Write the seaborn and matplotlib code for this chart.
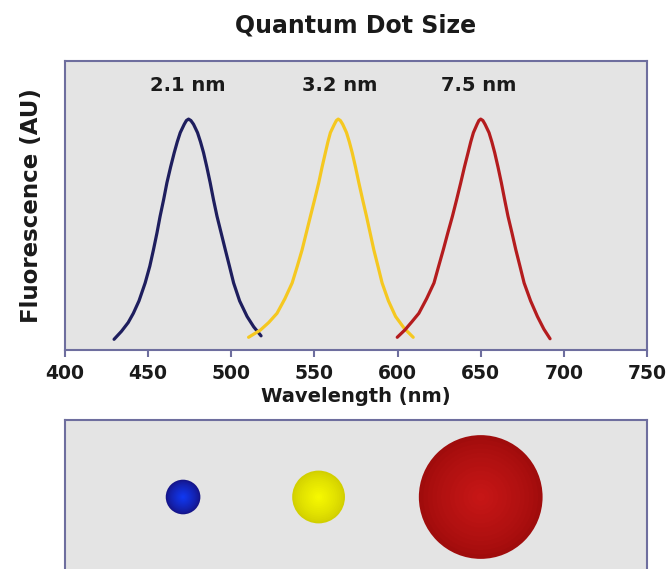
import numpy as np
import pandas as pd
import matplotlib
matplotlib.use("Agg")
import matplotlib.pyplot as plt
import seaborn as sns
from matplotlib.colors import to_rgb

# ---- data ----
blue_nm = [429.5, 434.0, 438.0, 441.1, 444.5, 448.2, 451.0, 453.2, 455.3, 457.2,
           459.3, 461.3, 463.5, 465.7, 467.5, 469.3, 471.7, 473.0, 474.3, 475.7,
           477.3, 479.7, 481.5, 483.3, 485.3, 487.3, 489.3, 491.4, 493.9, 496.4,
           498.9, 501.4, 505.0, 509.5, 513.5, 517.9]
blue_val = [0.037, 0.065, 0.095, 0.127, 0.170, 0.232, 0.290, 0.347, 0.405, 0.463,
            0.520, 0.579, 0.633, 0.683, 0.720, 0.752, 0.781, 0.794, 0.799, 0.794,
            0.781, 0.752, 0.720, 0.683, 0.633, 0.579, 0.520, 0.463, 0.405, 0.347,
            0.290, 0.232, 0.170, 0.116, 0.080, 0.049]

yellow_nm = [510.4, 517.5, 522.5, 527.5, 532.2, 536.6, 539.7, 542.6, 545.1, 547.6,
             550.1, 552.6, 554.6, 556.6, 558.1, 559.6, 562.0, 563.2, 564.3, 565.6,
             567.0, 569.3, 571.0, 572.7, 574.7, 576.7, 579.0, 581.3, 583.5, 585.7,
             588.2, 590.7, 594.5, 598.8, 604.0, 609.4]
yellow_val = [0.044, 0.069, 0.095, 0.127, 0.177, 0.232, 0.290, 0.347, 0.405, 0.463,
              0.520, 0.579, 0.633, 0.683, 0.720, 0.752, 0.781, 0.794, 0.799, 0.794,
              0.781, 0.752, 0.720, 0.683, 0.633, 0.579, 0.520, 0.463, 0.405, 0.347,
              0.290, 0.232, 0.170, 0.116, 0.075, 0.044]

red_nm = [599.8, 604.5, 608.5, 612.8, 617.5, 621.9, 624.7, 627.5, 630.2, 633.0,
          635.5, 638.0, 640.2, 642.4, 644.0, 645.6, 647.8, 648.9, 650.0, 651.3,
          652.6, 655.0, 656.7, 658.4, 660.4, 662.4, 664.4, 666.4, 668.8, 671.1,
          673.6, 676.1, 680.0, 684.1, 688.0, 691.7]
red_val = [0.044, 0.070, 0.097, 0.127, 0.178, 0.232, 0.290, 0.347, 0.405, 0.463,
           0.520, 0.579, 0.633, 0.683, 0.720, 0.752, 0.781, 0.794, 0.799, 0.794,
           0.781, 0.752, 0.720, 0.683, 0.633, 0.579, 0.520, 0.463, 0.405, 0.347,
           0.290, 0.232, 0.170, 0.116, 0.072, 0.039]

dot_labels = ["2.1 nm", "3.2 nm", "7.5 nm"]
dot_size_nm = [2.1, 3.2, 7.5]
label_x = [474.0, 565.0, 649.0]
dot_x = [471.0, 552.5, 650.0]
x_ticks = [400, 450, 500, 550, 600, 650, 700, 750]

# ---- styling ----
line_colors = ["#1e1e5e", "#f5c820", "#b41c1e"]
dot_edge = ["#15158a", "#d2d000", "#a00c0c"]
dot_center = ["#1038f0", "#f6f800", "#c61616"]
bg = "#e4e4e4"
frame = "#6e6e9e"
txt = "#1a1a1a"

sns.set_theme(style="white")
plt.rcParams["font.family"] = ["DejaVu Sans"]

W, H = 667, 569
fig = plt.figure(figsize=(W / 100, H / 100), dpi=100)

def ax_rect(x0, y0, x1, y1):
    return [x0 / W, 1 - y1 / H, (x1 - x0) / W, (y1 - y0) / H]

ax = fig.add_axes(ax_rect(65, 61, 647, 350))
ax.set_facecolor(bg)

df = pd.concat([
    pd.DataFrame({"nm": blue_nm, "val": blue_val, "dot": dot_labels[0]}),
    pd.DataFrame({"nm": yellow_nm, "val": yellow_val, "dot": dot_labels[1]}),
    pd.DataFrame({"nm": red_nm, "val": red_val, "dot": dot_labels[2]}),
])
sns.lineplot(data=df, x="nm", y="val", hue="dot", palette=line_colors,
             estimator=None, sort=True, linewidth=2.3, legend=False, ax=ax)
ax.set_xlim(400, 750)
ax.set_ylim(0, 1)
ax.set_xticks(x_ticks)
ax.set_xticklabels([str(t) for t in x_ticks], fontsize=13.5, fontweight="bold", color=txt)
ax.set_yticks([])
ax.tick_params(axis="x", bottom=True, length=5, width=1.5, color=frame, pad=5)
ax.set_xlabel("")
ax.set_ylabel("")
for s in ax.spines.values():
    s.set_color(frame)
    s.set_linewidth(1.5)

for lx, lab in zip(label_x, dot_labels):
    ax.text(lx, (350 - 85.5) / 289, lab, ha="center", va="center", fontsize=14,
            fontweight="bold", color=txt)

fig.text(356 / W, 1 - 26 / H, "Quantum Dot Size", ha="center", va="center",
         fontsize=17, fontweight="bold", color=txt)
fig.text(32 / W, 1 - 206 / H, "Fluorescence (AU)", ha="center", va="center",
         rotation=90, fontsize=16.5, fontweight="bold", color=txt)
fig.text(356 / W, 1 - 397 / H, "Wavelength (nm)", ha="center", va="center",
         fontsize=14, fontweight="bold", color=txt)

# ---- lower panel with dots ----
ax2 = fig.add_axes(ax_rect(65, 420, 647, 580))
ax2.set_facecolor(bg)
ax2.set_xlim(400, 750)
ax2.set_ylim(0, 1)
ax2.set_xticks([])
ax2.set_yticks([])
for s in ax2.spines.values():
    s.set_color(frame)
    s.set_linewidth(1.5)

yc = (580 - 497) / 160.0
px_per_nm_size = 16.5  # diameter in px per nm of dot size
n_layers = 14
for i in range(n_layers):
    f = 1 - i / n_layers
    rows = []
    cols = []
    for k in range(3):
        d_pt = dot_size_nm[k] * px_per_nm_size * f * 0.72
        c0 = np.array(to_rgb(dot_edge[k]))
        c1 = np.array(to_rgb(dot_center[k]))
        t = (i / (n_layers - 1)) ** 0.8
        cols.append(tuple(c0 * (1 - t) + c1 * t))
        rows.append({"x": dot_x[k], "y": yc, "s": d_pt ** 2, "dot": dot_labels[k]})
    ddf = pd.DataFrame(rows)
    sns.scatterplot(data=ddf, x="x", y="y", hue="dot", palette=cols, size="s",
                    sizes=(ddf["s"].min(), ddf["s"].max()),
                    size_norm=(ddf["s"].min(), ddf["s"].max()),
                    linewidth=0, legend=False, ax=ax2, zorder=3 + i)
ax2.set_xlabel("")
ax2.set_ylabel("")

fig.savefig("out.png", dpi=100, facecolor="white")
